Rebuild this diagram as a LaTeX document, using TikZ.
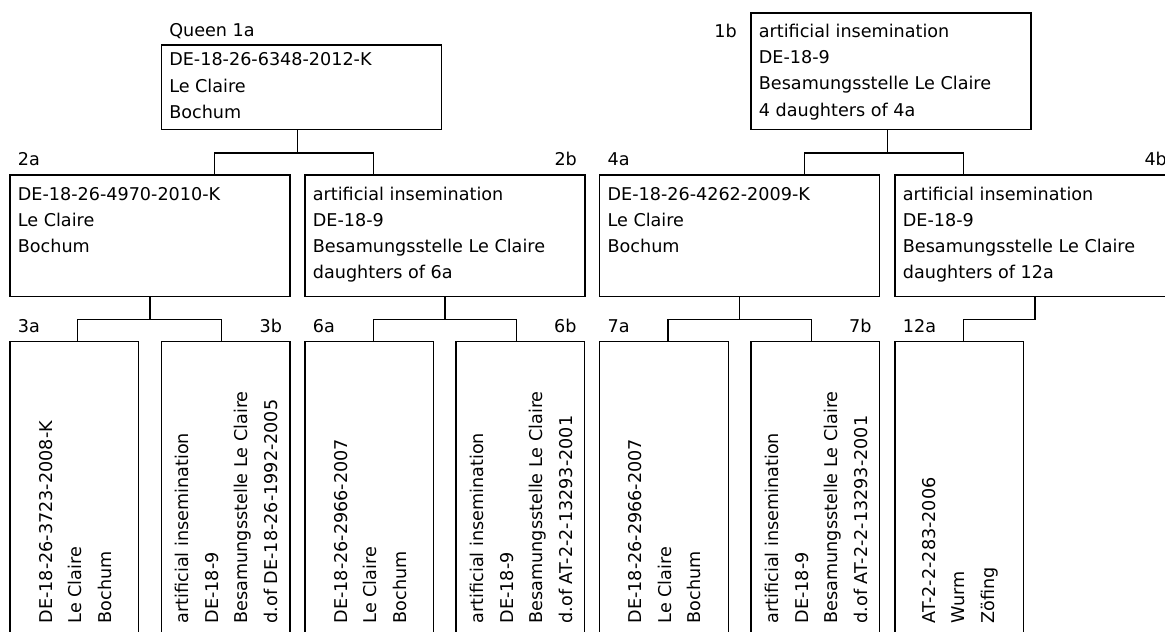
\documentclass[tikz,border=0pt]{standalone}
\usepackage{fontspec}
\setmainfont{DejaVu Sans}
\begin{document}
\begin{tikzpicture}[x=1pt,y=-1pt,line width=1.2pt]
\tikzstyle{box}=[rectangle, draw, anchor=north west, inner sep=0pt, minimum width=280pt]
\tikzstyle{wide}=[box, minimum height=121.4pt]
\tikzstyle{tall}=[box, minimum width=128.7pt, minimum height=292pt]
% base of a multi-line node is its last line
\tikzstyle{txt}=[anchor=base west, align=left, inner sep=0pt, font=\fontsize{17.6}{26.3}\selectfont]
\tikzstyle{vtxt}=[rotate=90, anchor=west, align=left, inner sep=0pt, font=\fontsize{17.6}{29.5}\selectfont]
\tikzstyle{tag}=[inner sep=0pt, font=\fontsize{17.6}{20}\selectfont]

\useasboundingbox (0,0) rectangle (1165,632);
\clip (0,0) rectangle (1165,632);

% generation 1
\node[box, minimum height=84.7pt] (r1a) at (160.7,44.3) {};
\node[tag, anchor=base west] (t1a) at ([shift={(8,-7.6)}]r1a.north west) {Queen 1a};
\node[txt] at ([shift={(8,74)}]r1a.north west) {DE-18-26-6348-2012-K\\Le Claire\\Bochum};

\node[box, minimum height=116.4pt] (r1b) at (750.3,12.3) {};
\node[tag, anchor=base east] (t1b) at ([shift={(-13,25)}]r1b.north west) {1b};
\node[txt] at ([shift={(8,103.9)}]r1b.north west) {artificial insemination\\DE-18-9\\Besamungsstelle Le Claire\\4 daughters of 4a};

% generation 2
\node[wide] (r2a) at (9.3,174.3) {};
\node[tag, anchor=base west] (t2a) at ([shift={(8,-9.3)}]r2a.north west) {2a};
\node[txt] at ([shift={(8,78.3)}]r2a.north west) {DE-18-26-4970-2010-K\\Le Claire\\Bochum};

\node[wide] (r2b) at (304.3,174.3) {};
\node[tag, anchor=base east] (t2b) at ([shift={(-8,-9.3)}]r2b.north east) {2b};
\node[txt] at ([shift={(8,104.6)}]r2b.north west) {artificial insemination\\DE-18-9\\Besamungsstelle Le Claire\\daughters of 6a};

\node[wide] (r4a) at (599,174.3) {};
\node[tag, anchor=base west] (t4a) at ([shift={(8,-9.3)}]r4a.north west) {4a};
\node[txt] at ([shift={(8,78.3)}]r4a.north west) {DE-18-26-4262-2009-K\\Le Claire\\Bochum};

\node[wide] (r4b) at (894.3,174.3) {};
\node[tag, anchor=base east] (t4b) at ([shift={(-8,-9.3)}]r4b.north east) {4b};
\node[txt] at ([shift={(8,104.6)}]r4b.north west) {artificial insemination\\DE-18-9\\Besamungsstelle Le Claire\\daughters of 12a};

\draw ([xshift=-4pt]r1a.south) -- ++(0,22.7) -| ([xshift=64.5pt]r2a.north);
\draw ([xshift=-4pt]r1a.south) ++(0,22.7) -| ([xshift=-71.5pt]r2b.north);
\draw ([xshift=-3.5pt]r1b.south) -- ++(0,23) -| ([xshift=64.7pt]r4a.north);
\draw ([xshift=-3.5pt]r1b.south) ++(0,23) -| ([xshift=-71.7pt]r4b.north);

% generation 3
\node[tall] (r3a) at (9.3,341) {};
\node[tag, anchor=base west] (t3a) at ([shift={(8,-8.7)}]r3a.north west) {3a};
\node[vtxt] at ([shift={(1,283)}]r3a.north) {DE-18-26-3723-2008-K\\Le Claire\\Bochum};

\node[tall] (r3b) at (160.7,341) {};
\node[tag, anchor=base east] (t3b) at ([shift={(-8,-8.7)}]r3b.north east) {3b};
\node[vtxt] at ([shift={(1,283)}]r3b.north) {artificial insemination\\DE-18-9\\Besamungsstelle Le Claire\\d.of DE-18-26-1992-2005};

\node[tall] (r6a) at (304.3,341) {};
\node[tag, anchor=base west] (t6a) at ([shift={(8,-8.7)}]r6a.north west) {6a};
\node[vtxt] at ([shift={(1,283)}]r6a.north) {DE-18-26-2966-2007\\Le Claire\\Bochum};

\node[tall] (r6b) at (455.3,341) {};
\node[tag, anchor=base east] (t6b) at ([shift={(-8,-8.7)}]r6b.north east) {6b};
\node[vtxt] at ([shift={(1,283)}]r6b.north) {artificial insemination\\DE-18-9\\Besamungsstelle Le Claire\\d.of AT-2-2-13293-2001};

\node[tall] (r7a) at (599,341) {};
\node[tag, anchor=base west] (t7a) at ([shift={(8,-8.7)}]r7a.north west) {7a};
\node[vtxt] at ([shift={(1,283)}]r7a.north) {DE-18-26-2966-2007\\Le Claire\\Bochum};

\node[tall] (r7b) at (750.3,341) {};
\node[tag, anchor=base east] (t7b) at ([shift={(-8,-8.7)}]r7b.north east) {7b};
\node[vtxt] at ([shift={(1,283)}]r7b.north) {artificial insemination\\DE-18-9\\Besamungsstelle Le Claire\\d.of AT-2-2-13293-2001};

\node[tall] (r12a) at (894.3,341) {};
\node[tag, anchor=base west] (t12a) at ([shift={(8,-8.7)}]r12a.north west) {12a};
\node[vtxt] at ([shift={(1,283)}]r12a.north) {AT-2-2-283-2006\\Wurm\\Zöfing};

\draw (r2a.south) -- ++(0,22.6) -| ([xshift=3.6pt]r3a.north);
\draw (r2a.south) ++(0,22.6) -| ([xshift=-4pt]r3b.north);
\draw (r2b.south) -- ++(0,22.6) -| ([xshift=4pt]r6a.north);
\draw (r2b.south) ++(0,22.6) -| ([xshift=-4pt]r6b.north);
\draw (r4a.south) -- ++(0,22.6) -| ([xshift=4pt]r7a.north);
\draw (r4a.south) ++(0,22.6) -| ([xshift=-4pt]r7b.north);
\draw (r4b.south) -- ++(0,22.6) -| ([xshift=4pt]r12a.north);
\end{tikzpicture}
\end{document}
